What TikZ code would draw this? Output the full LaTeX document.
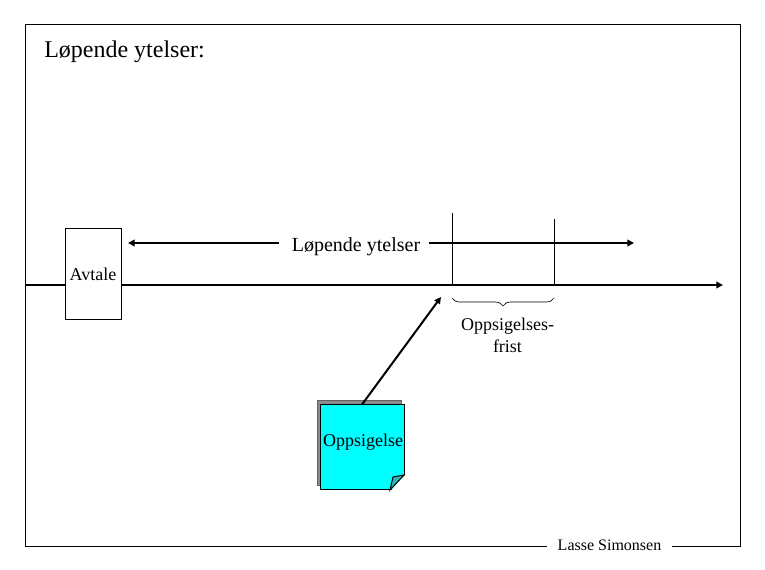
\documentclass[tikz,border=0pt]{standalone}
\usepackage{fontspec}
\setmainfont{Liberation Serif}
\usetikzlibrary{arrows.meta,positioning,calc,decorations.pathreplacing}
\definecolor{notecyan}{RGB}{0,255,255}
\definecolor{foldteal}{RGB}{51,178,178}
\definecolor{shadowgray}{RGB}{140,140,140}

\begin{document}
\begin{tikzpicture}[
      x=0.75pt, y=-0.75pt,
      every node/.style={font=\fontsize{13.5pt}{16pt}\selectfont, inner sep=0pt},
      frm/.style={black, line width=0.75pt},
      ln/.style={black, line width=1.5pt},
      thn/.style={black, line width=0.75pt},
      ar/.style={ln, -{Triangle[length=5pt,width=5pt]}},
      bx/.style={rectangle, draw=black, fill=white, line width=0.75pt,
                 minimum width=42pt, minimum height=68.25pt},
      sheet/.style={rectangle, draw=black, line width=0.75pt,
                    minimum width=63pt, minimum height=63.75pt}
    ]
    \useasboundingbox (0,0) rectangle (765,570);
    % frame and signature
    \draw[frm] (25,24.5) rectangle (740,546.5);
    \node[fill=white, inner xsep=7.9pt, inner ysep=2pt] (sign) at (609.5,545.5) {\fontsize{12pt}{14pt}\selectfont Lasse Simonsen};
    \node[anchor=west, font=\fontsize{18pt}{21pt}\selectfont] (title) at (44,51.5) {Løpende ytelser:};
    % time line
    \coordinate (t0) at (26,285);
    \coordinate (t1) at (723,285);
    \draw[ar] (t0) -- (t1);
    \node[bx] (avtale) at (93,274) {Avtale};
    % running benefits
    \node[font=\fontsize{15pt}{18pt}\selectfont] (lop) at (356,247) {Løpende ytelser};
    \coordinate (lopa) at (279,243);
    \coordinate (lopb) at (128,243);
    \coordinate (lopc) at (429,243);
    \coordinate (lopd) at (634,243);
    \draw[ar] (lopa) -- (lopb);
    \draw[ar] (lopc) -- (lopd);
    % notice period
    \coordinate (f0) at (452,213);
    \coordinate (f1) at (452,285);
    \coordinate (g0) at (554,219);
    \coordinate (g1) at (554,285);
    \draw[thn] (f0) -- (f1);
    \draw[thn] (g0) -- (g1);
    \coordinate (b0) at (452,298);
    \coordinate (b1) at (554,298);
    \draw[black, line width=0.5pt, decorate, decoration={brace, mirror, amplitude=6pt}] (b0) -- (b1);
    \node[align=center, font=\fontsize{13.5pt}{16.5pt}\selectfont] (frist) at (507.5,335) {Oppsigelses-\\frist};
    % notice sheet
    \node[sheet, draw=shadowgray!70!black, fill=shadowgray] (shadow) at (359,443.5) {};
    \node[sheet, fill=notecyan] (note) at (362,447.5) {};
    \fill[white] (390.5,491) -- (405,491) -- (405,475) -- cycle;
    \draw[thn, fill=foldteal] (390,490) -- (393,477) -- (404,475) -- cycle;
    \node (opp) at (363,442) {Oppsigelse};
    \coordinate (hit) at (441,297);
    \draw[ar] (note.north) -- (hit);
  \end{tikzpicture}
\end{document}
